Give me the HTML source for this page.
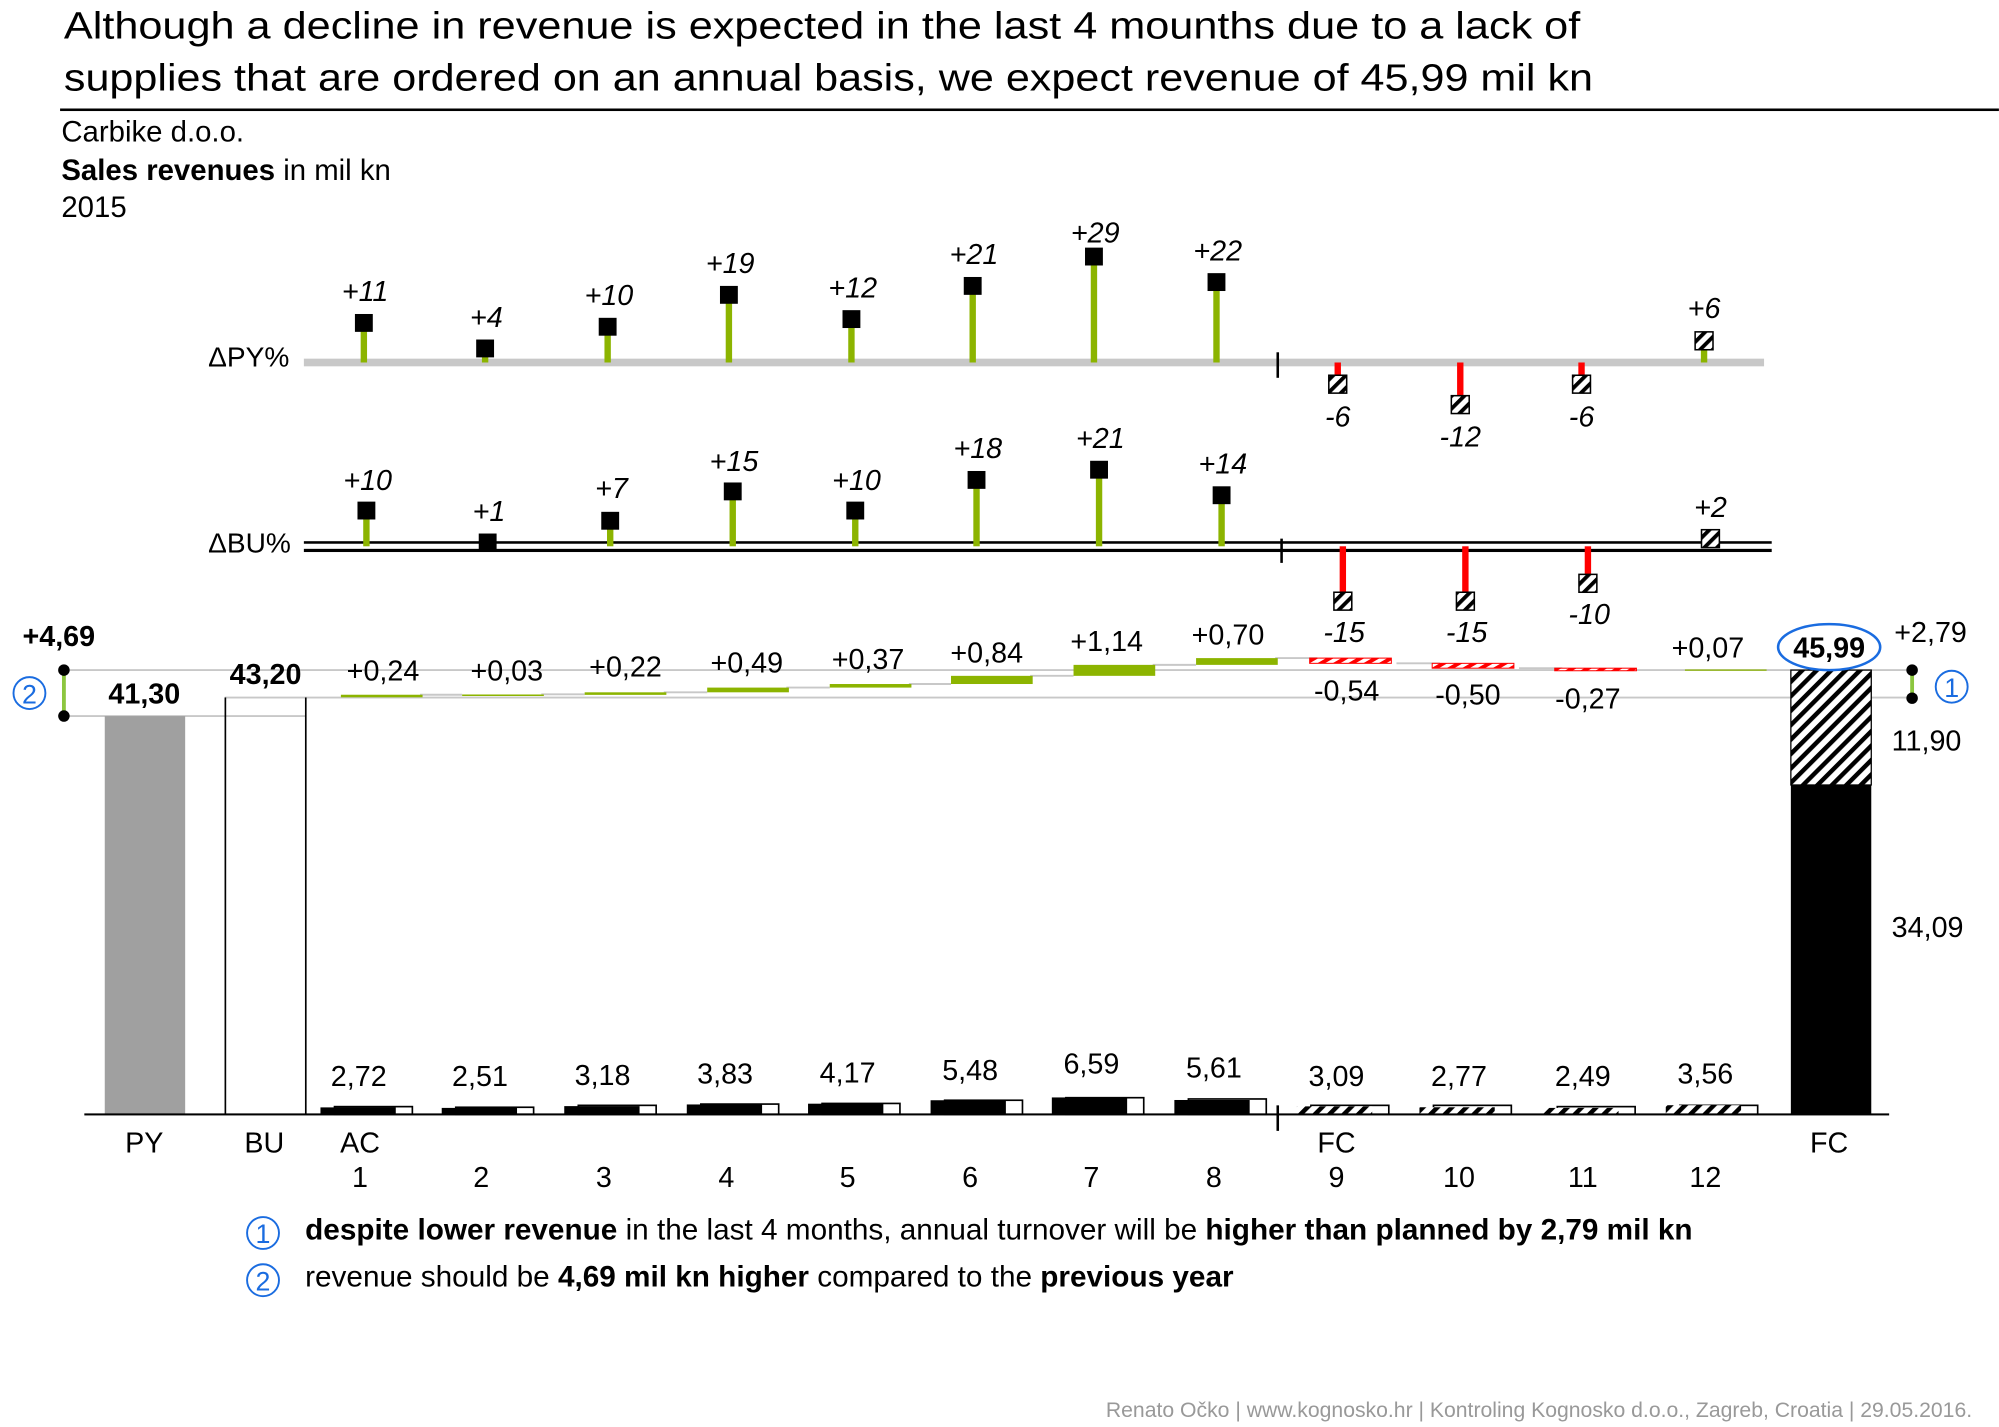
<!DOCTYPE html>
<html><head><meta charset="utf-8"><style>
html,body{margin:0;padding:0;background:#fff;}
svg{display:block;}
text{font-family:"Liberation Sans",Arial,sans-serif;fill:#000;}
.it{font-style:italic;font-size:22.5px;}
.v{font-size:22.5px;}
.b{font-weight:bold;}
</style></head><body>
<svg width="1999" height="1427" viewBox="0 0 1566 1118" xmlns="http://www.w3.org/2000/svg">
<defs>
<pattern id="h" width="8" height="8" patternUnits="userSpaceOnUse" patternTransform="rotate(45)">
<rect width="8" height="8" fill="#fff"/><rect width="3.5" height="8" fill="#000"/></pattern>
<pattern id="hm" width="7" height="7" patternUnits="userSpaceOnUse" patternTransform="rotate(45)">
<rect width="7" height="7" fill="#fff"/><rect width="3" height="7" fill="#000"/></pattern>
<pattern id="hr" width="6" height="6" patternUnits="userSpaceOnUse" patternTransform="rotate(60)">
<rect width="6" height="6" fill="#fff"/><rect width="3" height="6" fill="#f00"/></pattern>
</defs>
<rect width="1566" height="1118" fill="#fff"/>
<!-- title -->
<text x="50" y="30" font-size="30" textLength="1188" lengthAdjust="spacingAndGlyphs">Although a decline in revenue is expected in the last 4 mounths due to a lack of</text>
<text x="50" y="71" font-size="30" textLength="1198" lengthAdjust="spacingAndGlyphs">supplies that are ordered on an annual basis, we expect revenue of 45,99 mil kn</text>
<rect x="47" y="85" width="1519" height="2" fill="#000"/>
<text x="48" y="111" font-size="23">Carbike d.o.o.</text>
<text x="48" y="141" font-size="23"><tspan class="b">Sales revenues</tspan> in mil kn</text>
<text x="48" y="170" font-size="23">2015</text>

<!-- ΔPY -->
<text x="163" y="287" font-size="22">ΔPY%</text>
<rect x="238" y="281" width="1144" height="6" fill="#c8c8c8"/>
<rect x="1000" y="276" width="2" height="20" fill="#000"/>
<g fill="#8cb400">
<rect x="282.5" y="252" width="5" height="32"/><rect x="377.5" y="272" width="5" height="12"/>
<rect x="473.5" y="255" width="5" height="29"/><rect x="568.5" y="230" width="5" height="54"/>
<rect x="664.5" y="250" width="5" height="34"/><rect x="759.5" y="224" width="5" height="60"/>
<rect x="854.5" y="201" width="5" height="83"/><rect x="950.5" y="221" width="5" height="63"/>
<rect x="1332.5" y="267" width="5" height="17"/>
</g>
<g fill="#f00">
<rect x="1045.5" y="284" width="5" height="17"/><rect x="1141.5" y="284" width="5" height="34"/>
<rect x="1236.5" y="284" width="5" height="17"/>
</g>
<g fill="#000">
<rect x="278" y="246" width="14" height="14"/><rect x="373" y="266" width="14" height="14"/>
<rect x="469" y="249" width="14" height="14"/><rect x="564" y="224" width="14" height="14"/>
<rect x="660" y="243" width="14" height="14"/><rect x="755" y="217" width="14" height="14"/>
<rect x="850" y="194" width="14" height="14"/><rect x="946" y="214" width="14" height="14"/>
</g>
<g fill="url(#hm)" stroke="#000" stroke-width="1.2">
<rect x="1041" y="294" width="14" height="14"/><rect x="1137" y="310" width="14" height="14"/>
<rect x="1232" y="294" width="14" height="14"/><rect x="1328" y="260" width="14" height="14"/>
</g>
<g class="it" text-anchor="middle">
<text x="286" y="236">+11</text><text x="381" y="256">+4</text><text x="477" y="239">+10</text>
<text x="572" y="214">+19</text><text x="668" y="233">+12</text><text x="763" y="207">+21</text>
<text x="858" y="190">+29</text><text x="954" y="204">+22</text>
<text x="1048" y="334">-6</text><text x="1144" y="350">-12</text><text x="1239" y="334">-6</text>
<text x="1335" y="249">+6</text>
</g>

<!-- ΔBU -->
<text x="163" y="433" font-size="22">ΔBU%</text>
<rect x="238" y="424" width="1150" height="2" fill="#000"/>
<rect x="238" y="430" width="1150" height="2.5" fill="#000"/>
<rect x="1003" y="422" width="2" height="19" fill="#000"/>
<g fill="#8cb400">
<rect x="284.5" y="400" width="5" height="28"/><rect x="475.5" y="408" width="5" height="20"/>
<rect x="571.5" y="385" width="5" height="43"/><rect x="667.5" y="400" width="5" height="28"/>
<rect x="762.5" y="376" width="5" height="52"/><rect x="858.5" y="368" width="5" height="60"/>
<rect x="954.5" y="388" width="5" height="40"/>
</g>
<g fill="#f00">
<rect x="1049.5" y="428" width="5" height="43"/><rect x="1145.5" y="428" width="5" height="43"/>
<rect x="1241.5" y="428" width="5" height="29"/>
</g>
<g fill="#000">
<rect x="280" y="393" width="14" height="14"/><rect x="375" y="418" width="14" height="14"/>
<rect x="471" y="401" width="14" height="14"/><rect x="567" y="378" width="14" height="14"/>
<rect x="663" y="393" width="14" height="14"/><rect x="758" y="369" width="14" height="14"/>
<rect x="854" y="361" width="14" height="14"/><rect x="950" y="381" width="14" height="14"/>
</g>
<g fill="url(#hm)" stroke="#000" stroke-width="1.2">
<rect x="1045" y="464" width="14" height="14"/><rect x="1141" y="464" width="14" height="14"/>
<rect x="1237" y="450" width="14" height="14"/><rect x="1333" y="415" width="14" height="14"/>
</g>
<g class="it" text-anchor="middle">
<text x="288" y="384">+10</text><text x="383" y="408">+1</text><text x="479" y="390">+7</text>
<text x="575" y="369">+15</text><text x="671" y="384">+10</text><text x="766" y="359">+18</text>
<text x="862" y="351">+21</text><text x="958" y="371">+14</text>
<text x="1053" y="503">-15</text><text x="1149" y="503">-15</text><text x="1245" y="489">-10</text>
<text x="1340" y="405">+2</text>
</g>

<!-- main chart reference lines -->
<g stroke="#c8c8c8" stroke-width="1.5">
<line x1="50" y1="525" x2="1500" y2="525"/>
<line x1="50" y1="561" x2="240" y2="561"/>
<line x1="176" y1="546.5" x2="1500" y2="546.5"/>
<line x1="329" y1="544.3" x2="362" y2="544.3"/>
<line x1="424" y1="544" x2="458" y2="544"/>
<line x1="520" y1="542.4" x2="554" y2="542.4"/>
<line x1="616" y1="538.7" x2="650" y2="538.7"/>
<line x1="712" y1="535.9" x2="745" y2="535.9"/>
<line x1="807" y1="529.5" x2="841" y2="529.5"/>
<line x1="903" y1="520.9" x2="937" y2="520.9"/>
<line x1="999" y1="515.6" x2="1032" y2="515.6"/>
<line x1="1094" y1="519.7" x2="1128" y2="519.7"/>
<line x1="1190" y1="523.5" x2="1224" y2="523.5"/>
</g>
<!-- PY / BU / FC -->
<rect x="82" y="561" width="63" height="312" fill="#a0a0a0"/>
<path d="M176.5 873 V546.5 M239.5 873 V546.5" stroke="#000" stroke-width="1.3" fill="none"/>
<rect x="1403" y="525" width="63" height="90" fill="url(#h)"/>
<rect x="1403" y="525" width="63" height="90" fill="none" stroke="#000" stroke-width="1"/>
<rect x="1403" y="615" width="63" height="258" fill="#000"/>
<!-- delta bars -->
<g fill="#8cb400">
<rect x="267" y="544.3" width="64" height="2"/><rect x="362" y="544.1" width="64" height="1.2"/>
<rect x="458" y="542.4" width="64" height="2"/><rect x="554" y="538.7" width="64" height="3.7"/>
<rect x="650" y="535.9" width="64" height="2.8"/><rect x="745" y="529.5" width="64" height="6.4"/>
<rect x="841" y="520.9" width="64" height="8.6"/><rect x="937" y="515.6" width="64" height="5.3"/>
<rect x="1320" y="524.5" width="64" height="1"/>
</g>
<g fill="url(#hr)" stroke="#f00" stroke-width="0.8">
<rect x="1026" y="515.6" width="64" height="4.1"/><rect x="1122" y="519.7" width="64" height="3.8"/>
<rect x="1218" y="523.5" width="64" height="2"/>
</g>
<g class="v" text-anchor="middle">
<text x="300" y="533">+0,24</text><text x="397" y="533">+0,03</text><text x="490" y="530">+0,22</text>
<text x="585" y="527">+0,49</text><text x="680" y="524">+0,37</text><text x="773" y="519">+0,84</text>
<text x="867" y="510">+1,14</text><text x="962" y="505">+0,70</text>
<text x="1055" y="549">-0,54</text><text x="1150" y="552">-0,50</text><text x="1244" y="555">-0,27</text>
<text x="1338" y="515">+0,07</text>
</g>
<!-- monthly bars -->
<g fill="#fff" stroke="#000" stroke-width="1.3">
<rect x="262" y="867" width="61" height="6"/><rect x="357" y="867.5" width="61" height="5.5"/>
<rect x="453" y="866" width="61" height="7"/><rect x="549" y="865" width="61" height="8"/>
<rect x="644" y="864.5" width="61" height="8.5"/><rect x="740" y="862" width="61" height="11"/>
<rect x="835" y="860" width="61" height="13"/><rect x="931" y="861" width="61" height="12"/>
<rect x="1027" y="866" width="61" height="7"/><rect x="1123" y="866" width="61" height="7"/>
<rect x="1220" y="867" width="61" height="6"/><rect x="1316" y="866" width="61" height="7"/>
</g>
<g fill="#000">
<rect x="251" y="867.6" width="59" height="5.4"/><rect x="346" y="868" width="59" height="5"/>
<rect x="442" y="866.6" width="59" height="6.4"/><rect x="538" y="865.3" width="59" height="7.7"/>
<rect x="633" y="864.7" width="59" height="8.3"/><rect x="729" y="862" width="59" height="11"/>
<rect x="824" y="859.8" width="59" height="13.2"/><rect x="920" y="861.8" width="59" height="11.2"/>
</g>
<g fill="url(#h)">
<rect x="1016" y="866.8" width="59" height="6.2"/><rect x="1112" y="867.5" width="59" height="5.5"/>
<rect x="1209" y="868" width="59" height="5"/><rect x="1305" y="865.9" width="59" height="7.1"/>
</g>
<rect x="66" y="872.3" width="1414" height="1.6" fill="#000"/>
<rect x="1000" y="866" width="2" height="20" fill="#000"/>
<g class="v" text-anchor="middle">
<text x="281" y="851">2,72</text><text x="376" y="851">2,51</text><text x="472" y="850">3,18</text>
<text x="568" y="849">3,83</text><text x="664" y="848">4,17</text><text x="760" y="846">5,48</text>
<text x="855" y="841">6,59</text><text x="951" y="844">5,61</text>
<text x="1047" y="851">3,09</text><text x="1143" y="851">2,77</text><text x="1240" y="851">2,49</text>
<text x="1336" y="849">3,56</text>
</g>
<g class="v" text-anchor="middle">
<text x="113" y="903">PY</text><text x="207" y="903">BU</text><text x="282" y="903">AC</text>
<text x="1047" y="903">FC</text><text x="1433" y="903">FC</text>
<text x="282" y="930">1</text><text x="377" y="930">2</text><text x="473" y="930">3</text>
<text x="569" y="930">4</text><text x="664" y="930">5</text><text x="760" y="930">6</text>
<text x="855" y="930">7</text><text x="951" y="930">8</text><text x="1047" y="930">9</text>
<text x="1143" y="930">10</text><text x="1240" y="930">11</text><text x="1336" y="930">12</text>
</g>
<!-- annotations -->
<g class="v b" text-anchor="middle">
<text x="113" y="551">41,30</text><text x="208" y="536">43,20</text>
<text x="46" y="506">+4,69</text><text x="1433" y="515">45,99</text>
</g>
<ellipse cx="1433" cy="507" rx="40" ry="18" fill="none" stroke="#1a6ce0" stroke-width="2"/>
<g class="v">
<text x="1484" y="503">+2,79</text><text x="1482" y="588">11,90</text><text x="1482" y="734">34,09</text>
</g>
<rect x="48.5" y="525" width="3" height="36" fill="#8cc63f"/>
<circle cx="50" cy="525" r="4.5" fill="#000"/><circle cx="50" cy="561" r="4.5" fill="#000"/>
<rect x="1496.5" y="525" width="3" height="22" fill="#8cc63f"/>
<circle cx="1498" cy="525" r="4.5" fill="#000"/><circle cx="1498" cy="547" r="4.5" fill="#000"/>
<g fill="none" stroke="#1a6ce0" stroke-width="1.5">
<circle cx="23" cy="543" r="12.5"/><circle cx="1529" cy="538" r="12.5"/>
<circle cx="206" cy="966" r="12.5"/><circle cx="206" cy="1003" r="12.5"/>
</g>
<g font-size="21" text-anchor="middle" style="fill:#1a6ce0">
<text x="23" y="551" style="fill:#1a6ce0">2</text><text x="1529" y="546" style="fill:#1a6ce0">1</text>
<text x="206" y="974" style="fill:#1a6ce0">1</text><text x="206" y="1011" style="fill:#1a6ce0">2</text>
</g>
<text x="239" y="971" font-size="23.3"><tspan class="b">despite lower revenue</tspan> in the last 4 months, annual turnover will be <tspan class="b">higher than planned by 2,79 mil kn</tspan></text>
<text x="239" y="1008" font-size="23.3">revenue should be <tspan class="b">4,69 mil kn higher</tspan> compared to the <tspan class="b">previous year</tspan></text>
<text x="1545" y="1110" font-size="16.6" text-anchor="end" style="fill:#999">Renato Očko | www.kognosko.hr | Kontroling Kognosko d.o.o., Zagreb, Croatia | 29.05.2016.</text>
</svg>
</body></html>
